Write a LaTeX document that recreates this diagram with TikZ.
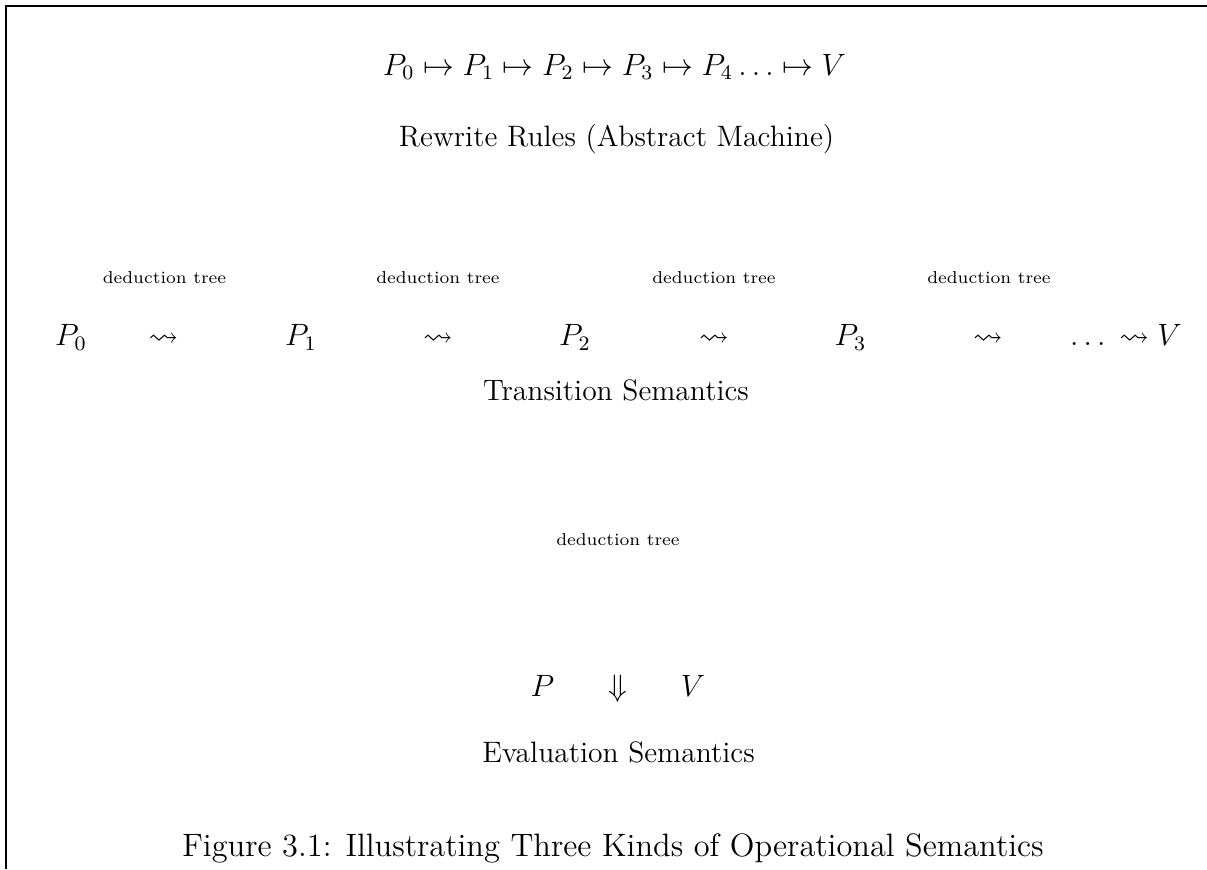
\documentclass[tikz,border=0pt]{standalone}
\usepackage{amssymb}
\begin{document}
\begin{tikzpicture}[x=0.38911pt, y=-0.38911pt,
  big/.style={inner sep=0pt, anchor=base, font=\fontsize{11.5}{14}\selectfont},
  caption/.style={inner sep=0pt, anchor=base, font=\fontsize{12.6}{15}\selectfont},
  small/.style={inner sep=0pt, anchor=base, font=\fontsize{6.7}{8}\selectfont},
  frameline/.style={line width=0.8pt}]
\useasboundingbox (0,0) rectangle (1207,869);
\draw[frameline] (6,869) -- (6,6) -- (1210,6);
% rewrite rules
\node[big] (rw) at (614.5,75) {$P_0 \mapsto P_1 \mapsto P_2 \mapsto P_3 \mapsto P_4 \ldots \mapsto V$};
\node[big] (rwl) at (616.5,146.7) {Rewrite Rules (Abstract Machine)};
% transition semantics
\node[small] (d1) at (164.5,283) {deduction tree};
\node[small] (d2) at (438,283) {deduction tree};
\node[small] (d3) at (714,283) {deduction tree};
\node[small] (d4) at (989,283) {deduction tree};
\node[big] (p0) at (71,345.5) {$P_0$};
\node[big] (a1) at (163.5,345.5) {$\leadsto$};
\node[big] (p1) at (301,345.5) {$P_1$};
\node[big] (a2) at (438,345.5) {$\leadsto$};
\node[big] (p2) at (575,345.5) {$P_2$};
\node[big] (a3) at (714,345.5) {$\leadsto$};
\node[big] (p3) at (850.5,345.5) {$P_3$};
\node[big] (a4) at (988,345.5) {$\leadsto$};
\node[big] (pv) at (1126,345.5) {$\ldots\,\leadsto V$};
\node[big] (tl) at (616,400.7) {Transition Semantics};
% evaluation semantics
\node[small] (d5) at (618,545) {deduction tree};
\node[big] (p) at (542.5,696) {$P$};
\node[big] (ev) at (618,696) {$\Downarrow$};
\node[big] (v) at (693,696) {$V$};
\node[big] (el) at (618.5,762.7) {Evaluation Semantics};
% caption
\node[caption] (cap) at (613,856) {Figure 3.1: Illustrating Three Kinds of Operational Semantics};
\end{tikzpicture}
\end{document}
